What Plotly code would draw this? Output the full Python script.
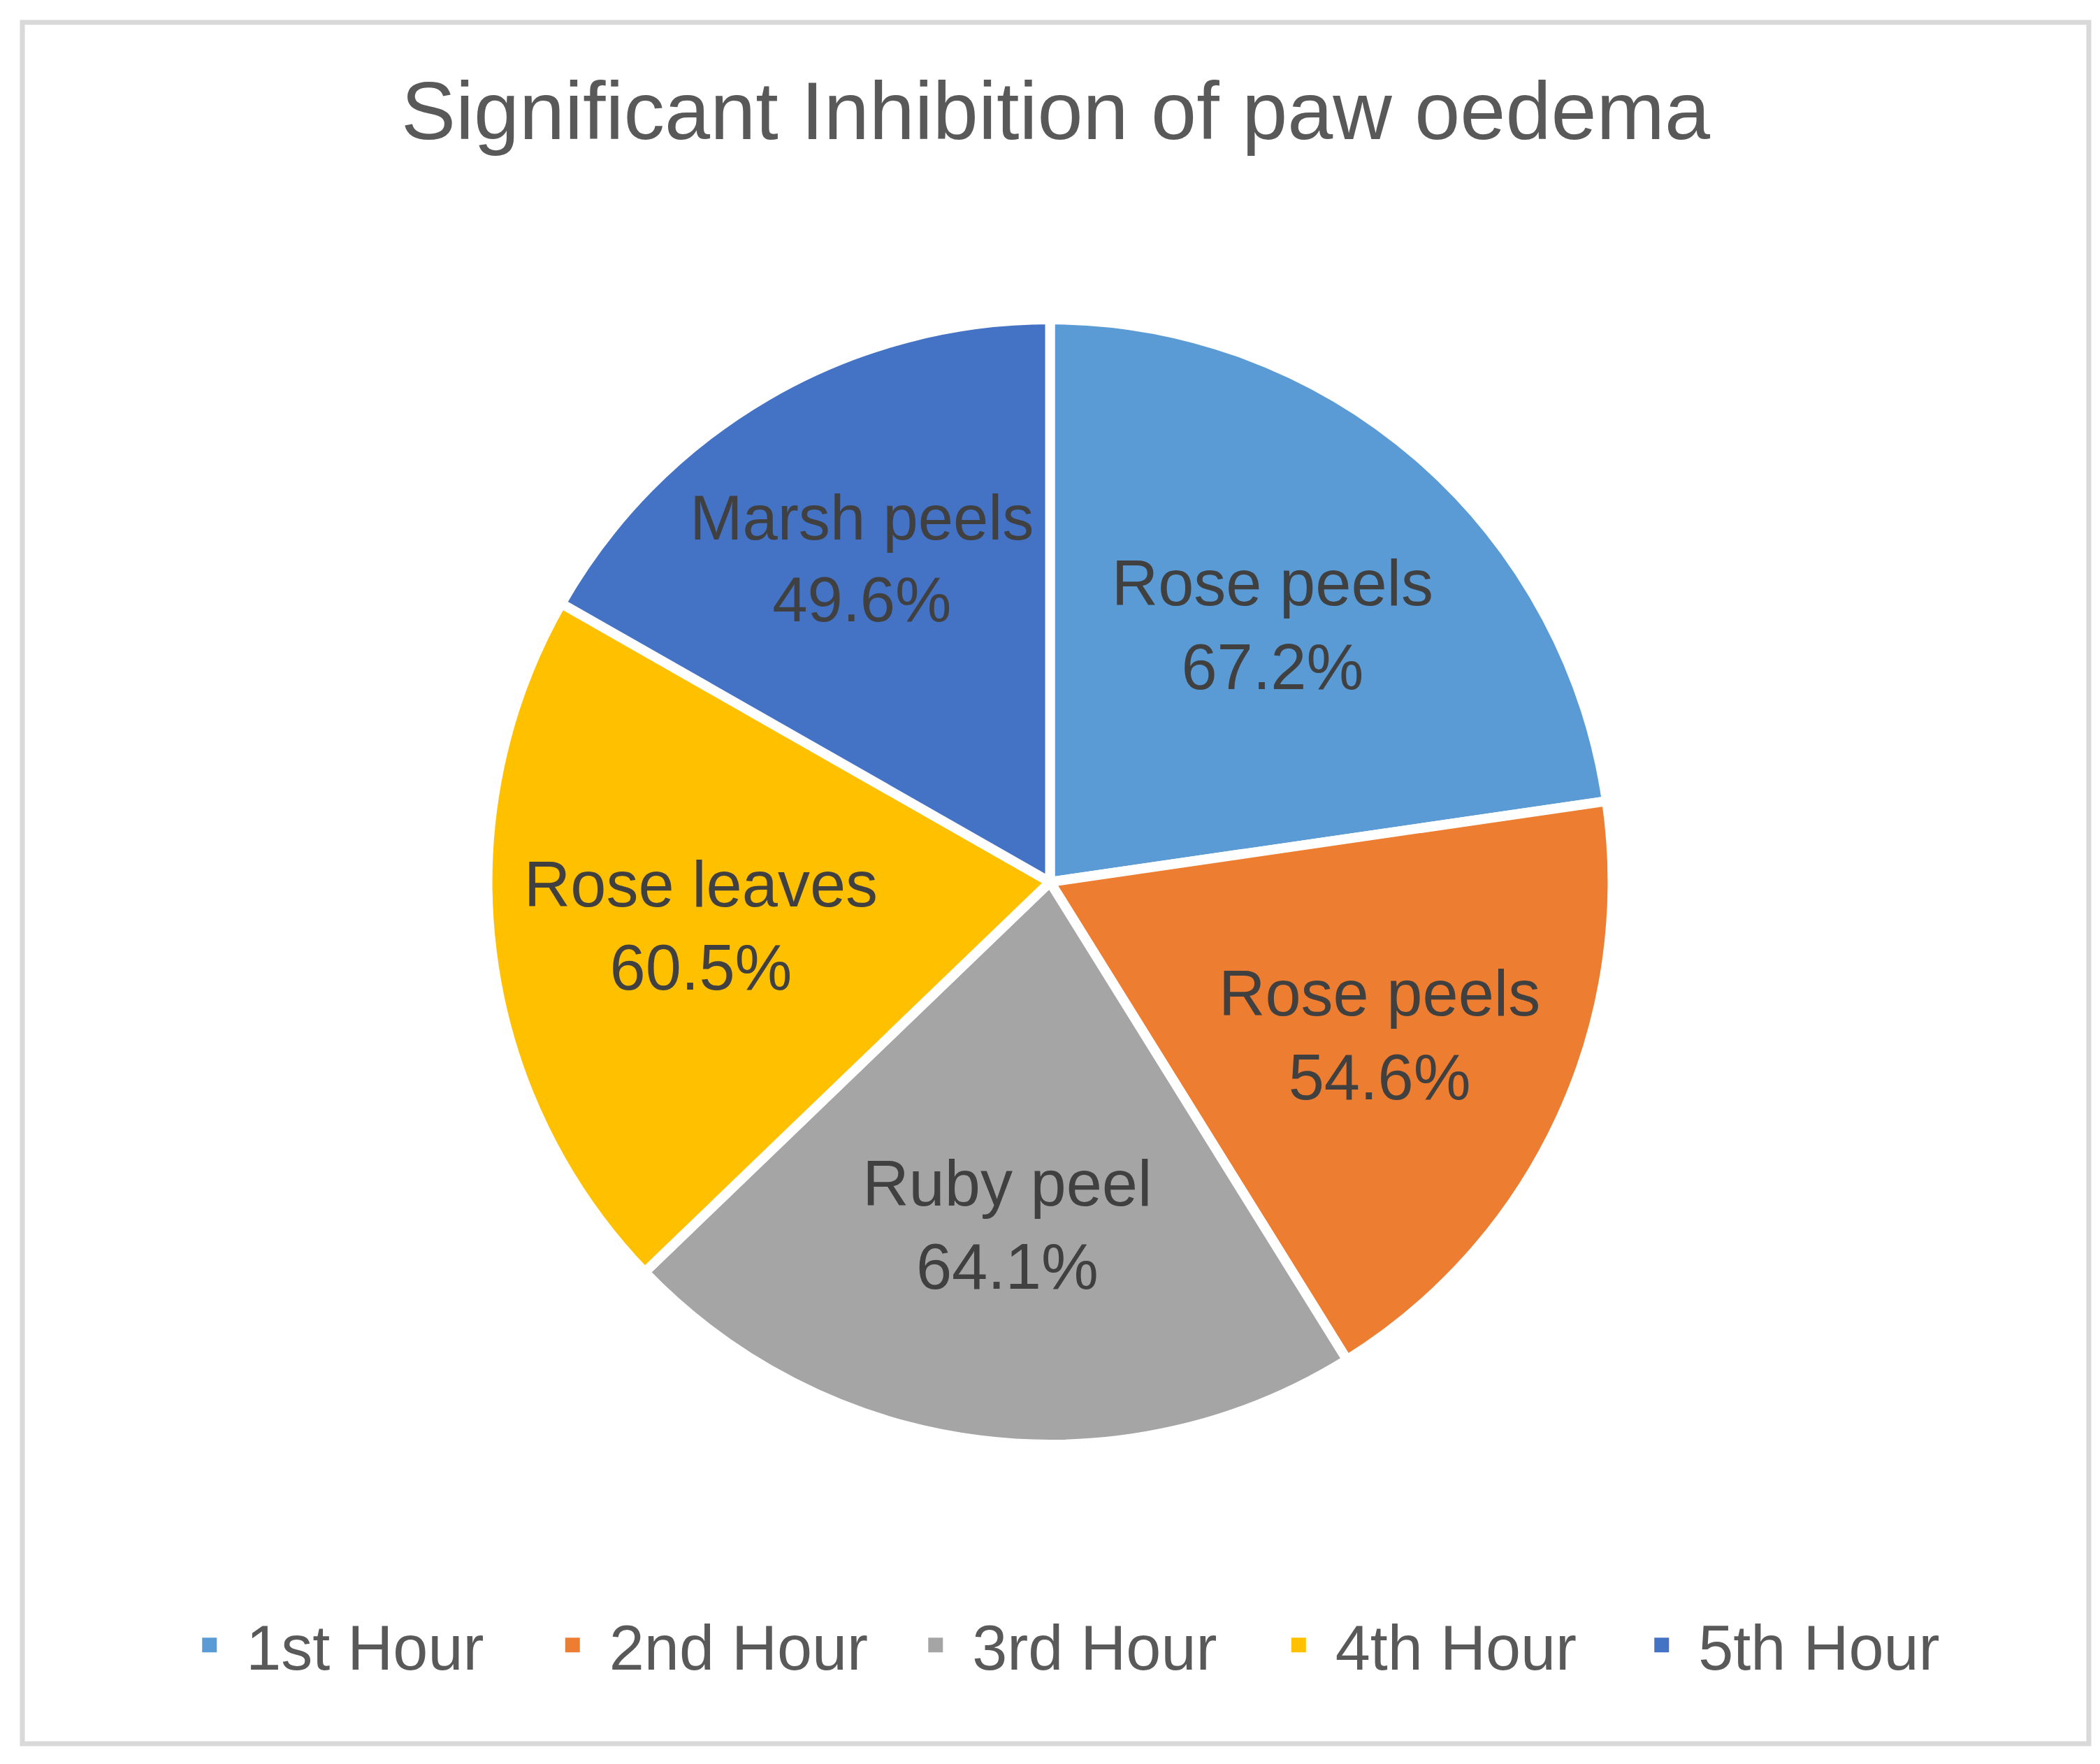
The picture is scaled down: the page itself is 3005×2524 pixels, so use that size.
import plotly.graph_objects as go

hours = ["1st Hour", "2nd Hour", "3rd Hour", "4th Hour", "5th Hour"]
extracts = ["Rose peels", "Rose peels", "Ruby peel", "Rose leaves", "Marsh peels"]
inhibition = [67.2, 54.6, 64.1, 60.5, 49.6]
colors = ["#5B9BD5", "#ED7D31", "#A5A5A5", "#FFC000", "#4472C4"]

labels_txt = [f"{e}<br>{v:.1f}%" for e, v in zip(extracts, inhibition)]

fig = go.Figure()
fig.add_trace(go.Pie(
    labels=hours,
    values=inhibition,
    text=labels_txt,
    textinfo="text",
    textposition="inside",
    insidetextorientation="horizontal",
    sort=False,
    direction="clockwise",
    rotation=0,
    marker=dict(colors=colors, line=dict(color="white", width=14)),
    insidetextfont=dict(family="Liberation Sans, Arial", size=92, color="#404040"),
    domain=dict(x=[0, 0.9946], y=[0.1738, 0.8274]),
    hoverinfo="skip",
    showlegend=False,
))

# legend entries (square swatches like the original)
for h, c in zip(hours, colors):
    fig.add_trace(go.Scatter(x=[None], y=[None], mode="markers", name=h,
                             marker=dict(symbol="square", size=16, color=c,
                                         line=dict(color=c, width=5))))

fig.update_layout(
    width=3005, height=2524,
    margin=dict(l=24, r=24, t=24, b=37),
    paper_bgcolor="white", plot_bgcolor="white",
    font=dict(family="Liberation Sans, Arial", color="#595959"),
    title=dict(text="Significant Inhibition of paw oedema", x=0.5, xanchor="center",
               y=1 - 150 / 2524, yanchor="middle", yref="container",
               font=dict(size=117, color="#595959")),
    xaxis=dict(visible=False), yaxis=dict(visible=False),
    showlegend=True,
    legend=dict(orientation="h", x=0.0728, xanchor="left", y=0.0573, yanchor="middle",
                font=dict(size=90, color="#595959"), itemwidth=95,
                entrywidthmode="pixels", entrywidth=409.5),
    shapes=[dict(type="rect", xref="paper", yref="paper", x0=0, y0=0, x1=1, y1=1,
                 line=dict(color="#D9D9D9", width=7), fillcolor="rgba(0,0,0,0)", layer="below")],
)

fig.write_html("out.html")
